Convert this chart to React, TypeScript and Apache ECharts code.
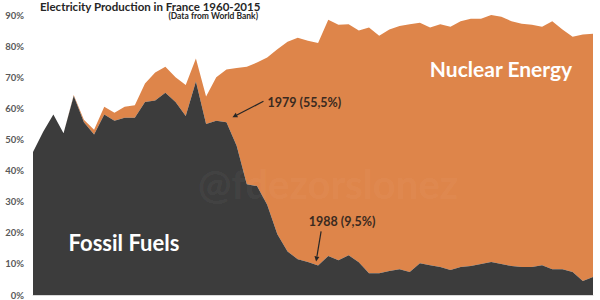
import React, { useEffect, useRef } from "react";
import * as echarts from "echarts";

const years = [
  "1960","1961","1962","1963","1964","1965","1966","1967","1968","1969",
  "1970","1971","1972","1973","1974","1975","1976","1977","1978","1979",
  "1980","1981","1982","1983","1984","1985","1986","1987","1988","1989",
  "1990","1991","1992","1993","1994","1995","1996","1997","1998","1999",
  "2000","2001","2002","2003","2004","2005","2006","2007","2008","2009",
  "2010","2011","2012","2013","2014","2015",
];

const fossilFuels = [
  46, 52.5, 58, 52, 64, 55.5, 51.6, 58, 56, 57,
  57, 62, 62.5, 65, 62, 57.5, 68.6, 55, 56, 55.5,
  48, 35.6, 35, 29, 19.5, 14, 11.5, 10.6, 9.5, 12.5,
  11.2, 12.8, 10.5, 7, 7, 7.7, 8.3, 7.4, 10.2, 9.6,
  9, 8, 9, 9.3, 10, 10.6, 10, 9.3, 9, 9,
  9.6, 8.3, 8.3, 7.4, 4.5, 5.8,
];

const nuclearEnergy = [
  0, 0, 0, 0, 0.3, 0.8, 1.5, 2.5, 2.6, 3.5,
  4, 6, 9, 8.4, 8, 10, 7.4, 8.8, 14, 17,
  25, 37.8, 39.7, 47.3, 59.5, 67.4, 71.2, 71.1, 71.5, 76,
  75.7, 74.2, 74.5, 79, 76.3, 77.6, 78.2, 79.6, 77.3, 76.4,
  78, 78.2, 79, 79.5, 78.8, 79.4, 79.4, 78.7, 78.2, 77.9,
  76.6, 79.7, 77, 75.6, 79.2, 78.2,
];

const annotations = [
  { year: "1979", value: 55.5, label: "1979 (55,5%)" },
  { year: "1988", value: 9.5, label: "1988 (9,5%)" },
];

const DARK = "#3c3c3c";
const ORANGE = "#de854a";
const FONT = "Lato";

export default function App() {
  const ref = useRef<HTMLDivElement>(null);

  useEffect(() => {
    if (!ref.current) return;
    const chart = echarts.init(ref.current, null, { renderer: "svg" });
    chart.setOption({
      animation: false,
      backgroundColor: "#ffffff",
      grid: { left: 33, right: 7, top: 15, bottom: 4, containLabel: false },
      xAxis: {
        type: "category",
        data: years,
        boundaryGap: false,
        axisLine: { show: true, lineStyle: { color: "#d9d9d9", width: 1 } },
        axisTick: { show: false },
        axisLabel: { show: false },
        splitLine: { show: false },
      },
      yAxis: {
        type: "value",
        min: 0,
        max: 90,
        interval: 10,
        axisLine: { show: false },
        axisTick: { show: false },
        splitLine: { show: false },
        axisLabel: {
          formatter: "{value}%",
          color: "#595959",
          fontFamily: FONT,
          fontWeight: "bold",
          fontSize: 9.5,
          margin: 9,
        },
      },
      series: [
        {
          name: "Fossil Fuels",
          type: "line",
          stack: "total",
          data: fossilFuels,
          symbol: "none",
          lineStyle: { width: 0 },
          areaStyle: { color: DARK, opacity: 1 },
          z: 3,
        },
        {
          name: "Nuclear Energy",
          type: "line",
          stack: "total",
          data: nuclearEnergy,
          symbol: "none",
          lineStyle: { width: 0 },
          areaStyle: { color: ORANGE, opacity: 1 },
          z: 2,
        },
      ],
    });

    const graphics: any[] = [
      {
        type: "text",
        left: 40,
        top: 0,
        style: {
          text: "Electricity Production in France 1960-2015",
          fill: "#262626",
          font: `bold 11.5px ${FONT}`,
        },
      },
      {
        type: "text",
        x: 258,
        y: 16,
        style: {
          text: "(Data from World Bank)",
          fill: "#262626",
          font: `bold 8.5px ${FONT}`,
          align: "right",
          verticalAlign: "middle",
        },
      },
      {
        type: "text",
        x: 328,
        y: 184,
        style: {
          text: "@fdezorslonez",
          fill: "rgba(255,255,255,0.05)",
          font: `bold 40px ${FONT}`,
          align: "center",
          verticalAlign: "middle",
        },
        z: 50,
      },
      {
        type: "text",
        x: 501,
        y: 68,
        style: {
          text: "Nuclear Energy",
          fill: "#ffffff",
          font: `bold 21px ${FONT}`,
          align: "center",
          verticalAlign: "middle",
        },
        z: 60,
      },
      {
        type: "text",
        x: 124,
        y: 242,
        style: {
          text: "Fossil Fuels",
          fill: "#ffffff",
          font: `bold 22px ${FONT}`,
          align: "center",
          verticalAlign: "middle",
        },
        z: 60,
      },
    ];

    const offsets = [
      { tip: [6, -5], tail: [37, -21], text: [41, -20], align: "left" },
      { tip: [-2, -4], tail: [3, -34], text: [24, -44], align: "center" },
    ];
    annotations.forEach((a, i) => {
      const p = chart.convertToPixel({ seriesIndex: 0 }, [a.year, a.value]) as number[];
      const o = offsets[i];
      const tip = [p[0] + o.tip[0], p[1] + o.tip[1]];
      const tail = [p[0] + o.tail[0], p[1] + o.tail[1]];
      const dx = tip[0] - tail[0];
      const dy = tip[1] - tail[1];
      const len = Math.sqrt(dx * dx + dy * dy);
      const ux = dx / len;
      const uy = dy / len;
      const ah = 5;
      const aw = 2.5;
      const base = [tip[0] - ux * ah, tip[1] - uy * ah];
      graphics.push({
        type: "line",
        shape: { x1: tail[0], y1: tail[1], x2: base[0], y2: base[1] },
        style: { stroke: "#262626", lineWidth: 1.2 },
        z: 60,
      });
      graphics.push({
        type: "polygon",
        shape: {
          points: [
            tip,
            [base[0] - uy * aw, base[1] + ux * aw],
            [base[0] + uy * aw, base[1] - ux * aw],
          ],
        },
        style: { fill: "#262626" },
        z: 60,
      });
      graphics.push({
        type: "text",
        x: p[0] + o.text[0],
        y: p[1] + o.text[1],
        style: {
          text: a.label,
          fill: "#3a2a20",
          font: `bold 12.5px ${FONT}`,
          align: o.align,
          verticalAlign: "middle",
        },
        z: 60,
      });
    });

    chart.setOption({ graphic: graphics });
    return () => chart.dispose();
  }, []);

  return (
    <div
      ref={ref}
      style={{ position: "fixed", left: 0, top: 0, width: 600, height: 300 }}
    />
  );
}
